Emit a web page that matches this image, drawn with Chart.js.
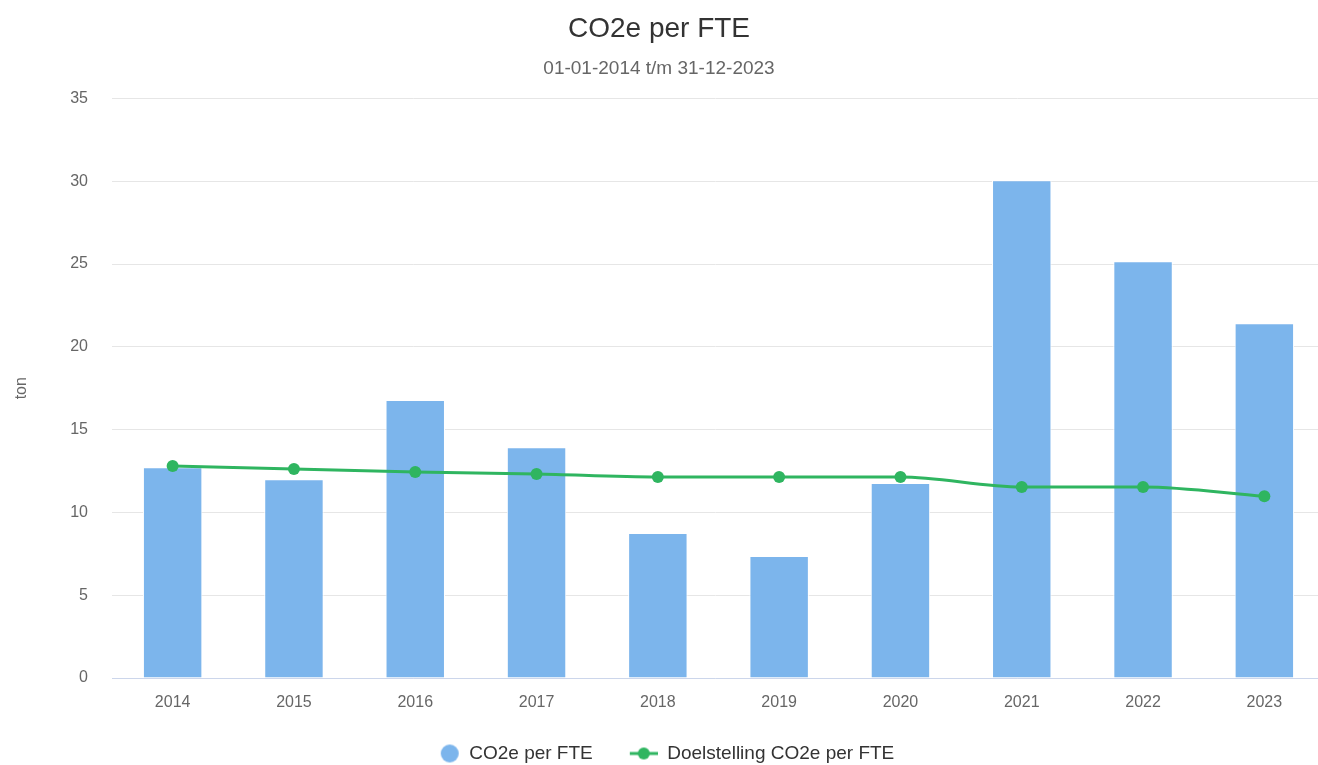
<!DOCTYPE html>
<html>
<head>
<meta charset="utf-8">
<title>CO2e per FTE</title>
<script src="https://cdn.jsdelivr.net/npm/chart.js@4.4.1/dist/chart.umd.min.js"></script>
<style>
  html, body { margin: 0; padding: 0; background: #fff; }
  #wrap { width: 1318px; height: 765px; }
</style>
</head>
<body>
<div id="wrap"><canvas id="co2Chart" width="1318" height="765"></canvas></div>
<script>
// jaren
const years = ['2014', '2015', '2016', '2017', '2018', '2019', '2020', '2021', '2022', '2023'];
// gemeten CO2e per FTE (ton)
const co2PerFte = [12.73, 12.0, 16.78, 13.94, 8.75, 7.36, 11.77, 30.05, 25.16, 21.42];
// doelstelling (ton)
const target = [12.8, 12.62, 12.44, 12.32, 12.14, 12.14, 12.14, 11.54, 11.54, 10.98];
const yTicks = [0, 5, 10, 15, 20, 25, 30, 35];

const barColor = '#7cb5ec';
const lineColor = '#2fb560';
const FONT = 'Liberation Sans, Arial, sans-serif';
const ICON_W = 36;

// legend icons, right aligned in the box
function circleIcon() {
  const c = document.createElement('canvas');
  c.width = ICON_W; c.height = 20;
  const g = c.getContext('2d');
  g.fillStyle = barColor;
  g.beginPath(); g.arc(ICON_W - 10, 10, 9, 0, Math.PI * 2); g.fill();
  return c;
}
function lineIcon() {
  const c = document.createElement('canvas');
  c.width = ICON_W; c.height = 14;
  const g = c.getContext('2d');
  g.strokeStyle = lineColor; g.lineWidth = 3;
  g.beginPath(); g.moveTo(ICON_W - 28, 7); g.lineTo(ICON_W, 7); g.stroke();
  g.fillStyle = lineColor;
  g.beginPath(); g.arc(ICON_W - 14, 7, 6, 0, Math.PI * 2); g.fill();
  return c;
}
const icons = [circleIcon(), lineIcon()];

// plot area runs a little past the right edge, like the original
const widenPlot = {
  id: 'widenPlot',
  afterLayout: function(chart) {
    const extra = 7;
    const x = chart.scales.x;
    x.right += extra;
    x.width = x.right - x.left;
    x.configure();
    chart.chartArea.right += extra;
    chart.chartArea.width = chart.chartArea.right - chart.chartArea.left;
  }
};

const data = {
  labels: years,
  datasets: [
    {
      type: 'line',
      label: 'Doelstelling CO2e per FTE',
      data: target,
      borderColor: lineColor,
      backgroundColor: lineColor,
      borderWidth: 3,
      pointRadius: 6,
      pointHoverRadius: 7,
      pointBorderWidth: 0,
      cubicInterpolationMode: 'monotone',
      order: 0
    },
    {
      type: 'bar',
      label: 'CO2e per FTE',
      data: co2PerFte,
      backgroundColor: barColor,
      borderColor: '#ffffff',
      borderWidth: 1,
      categoryPercentage: 1.0,
      barPercentage: 0.49,
      order: 1
    }
  ]
};

const config = {
  type: 'bar',
  data: data,
  plugins: [widenPlot],
  options: {
    responsive: false,
    animation: false,
    layout: { autoPadding: false, padding: { left: 0, right: 0, top: 0, bottom: -8 } },
    plugins: {
      title: {
        display: true,
        text: 'CO2e per FTE',
        color: '#333333',
        font: { family: FONT, size: 28, weight: 'normal' },
        padding: { top: 12, bottom: 0 }
      },
      subtitle: {
        display: true,
        text: '01-01-2014 t/m 31-12-2023',
        color: '#666666',
        font: { family: FONT, size: 19, weight: 'normal' },
        padding: { top: 12, bottom: 18 }
      },
      legend: {
        position: 'bottom',
        labels: {
          color: '#333333',
          font: { family: FONT, size: 19 },
          usePointStyle: true,
          pointStyleWidth: ICON_W,
          padding: 29,
          generateLabels: function(chart) {
            // bar first, then line
            return [1, 0].map(function(i, k) {
              const ds = chart.data.datasets[i];
              return {
                text: ds.label,
                pointStyle: icons[k],
                fillStyle: ds.backgroundColor,
                strokeStyle: ds.borderColor,
                lineWidth: 0,
                fontColor: '#333333',
                hidden: !chart.isDatasetVisible(i),
                datasetIndex: i
              };
            });
          }
        }
      },
      tooltip: { enabled: true }
    },
    scales: {
      x: {
        afterFit: function(scale) {
          scale.paddingLeft = 0;
          scale.paddingRight = 0;
          scale.height = 37;
        },
        grid: { display: false, drawTicks: false },
        border: { display: true, color: '#ccd6eb', width: 1 },
        ticks: {
          color: '#666666',
          font: { family: FONT, size: 16 },
          padding: 15
        }
      },
      y: {
        min: 0,
        max: 35,
        afterFit: function(scale) { scale.width = 112; },
        afterBuildTicks: function(scale) {
          scale.ticks = yTicks.map(function(v) { return { value: v }; });
        },
        grid: { color: '#e6e6e6', drawTicks: false },
        border: { display: false },
        title: {
          display: true,
          text: 'ton',
          color: '#666666',
          font: { family: FONT, size: 16 },
          padding: { top: 12, bottom: 0 }
        },
        ticks: {
          color: '#666666',
          font: { family: FONT, size: 16 },
          padding: 24
        }
      }
    }
  }
};

const ctx = document.getElementById('co2Chart').getContext('2d');
new Chart(ctx, config);
</script>
</body>
</html>
